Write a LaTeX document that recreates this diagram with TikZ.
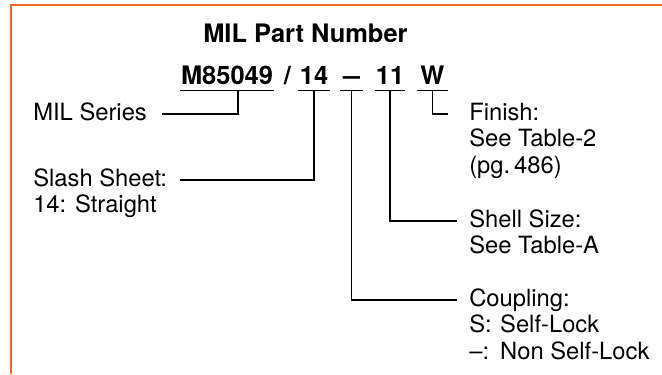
\documentclass[tikz,border=0pt]{standalone}
\usepackage{fontspec}
\usepackage{graphicx}
\setmainfont{TeX Gyre Heros}
\usetikzlibrary{calc}
\definecolor{frame}{HTML}{F26B2D}
\newcommand{\lblfont}{\fontsize{16.9}{18.85}\selectfont}
\newcommand{\numfont}{\fontsize{18.1}{20}\selectfont\bfseries}
\newcommand{\lines}[1]{\begin{tabular}[t]{@{}l@{}}#1\end{tabular}}

\begin{document}
\begin{tikzpicture}[x=0.025cm,y=-0.025cm,
  lbl/.style={font=\lblfont,anchor=base west,inner sep=0pt},
  seg/.style={font=\numfont,anchor=base,inner xsep=0pt,inner ysep=4.27pt,text depth=0pt},
  lead/.style={line width=1pt}]
  \useasboundingbox (0,0) rectangle (662,374);

  % Frame, open on the right and at the bottom
  \draw[frame,line width=1.42pt] (11,374) -- (11,5) -- (662,5);

  % Title and the part number, cut into its fields
  \node[font=\numfont,anchor=base west,inner sep=0pt] (title) at (203,43) {MIL Part Number};
  \node[seg,minimum width=94*0.025cm] (mnum) at (227,84) {M85049};
  \node[seg] (bar) at (287.5,84) {/};
  \node[seg,minimum width=32*0.025cm] (slash) at (314,84) {14};
  \node[seg,minimum width=23*0.025cm] (lock) at (351.5,84) {\scalebox{1.2}[1]{--}};
  \node[seg,minimum width=30*0.025cm] (size) at (390,84) {11};
  \node[seg,minimum width=31*0.025cm] (plating) at (432.5,84) {W};
  \foreach \s in {mnum,slash,lock,size,plating}
    \draw[lead] (\s.south west) -- (\s.south east);

  % Field descriptions
  \node[lbl] (series) at (33,120) {MIL Series};
  \node[lbl] (sheet) at (33,186) {\lines{Slash Sheet:\\14: Straight}};
  \node[lbl] (finish) at (469,120) {\lines{Finish:\\See Table-2\\(pg.\,486)}};
  \node[lbl] (shell) at (469,227) {\lines{Shell Size:\\See Table-A}};
  \node[lbl] (coupling) at (469,306) {\lines{Coupling:\\\makebox[1.3em][l]{S:}Self-Lock\\\makebox[1.3em][l]{--:}Non Self-Lock}};

  % Leaders
  \draw[lead] ($(mnum.south)+(11,0)$) |- ($(series.base east)+(15,-6)$);
  \draw[lead] (slash.south) |- ($(sheet.base east)+(13,-6)$);
  \draw[lead] (plating.south) |- ($(finish.base west)+(-21,-6)$);
  \draw[lead] (size.south) |- ($(shell.base west)+(-12,-6)$);
  \draw[lead] (lock.south) |- ($(coupling.base west)+(-12,-6)$);
\end{tikzpicture}
\end{document}
